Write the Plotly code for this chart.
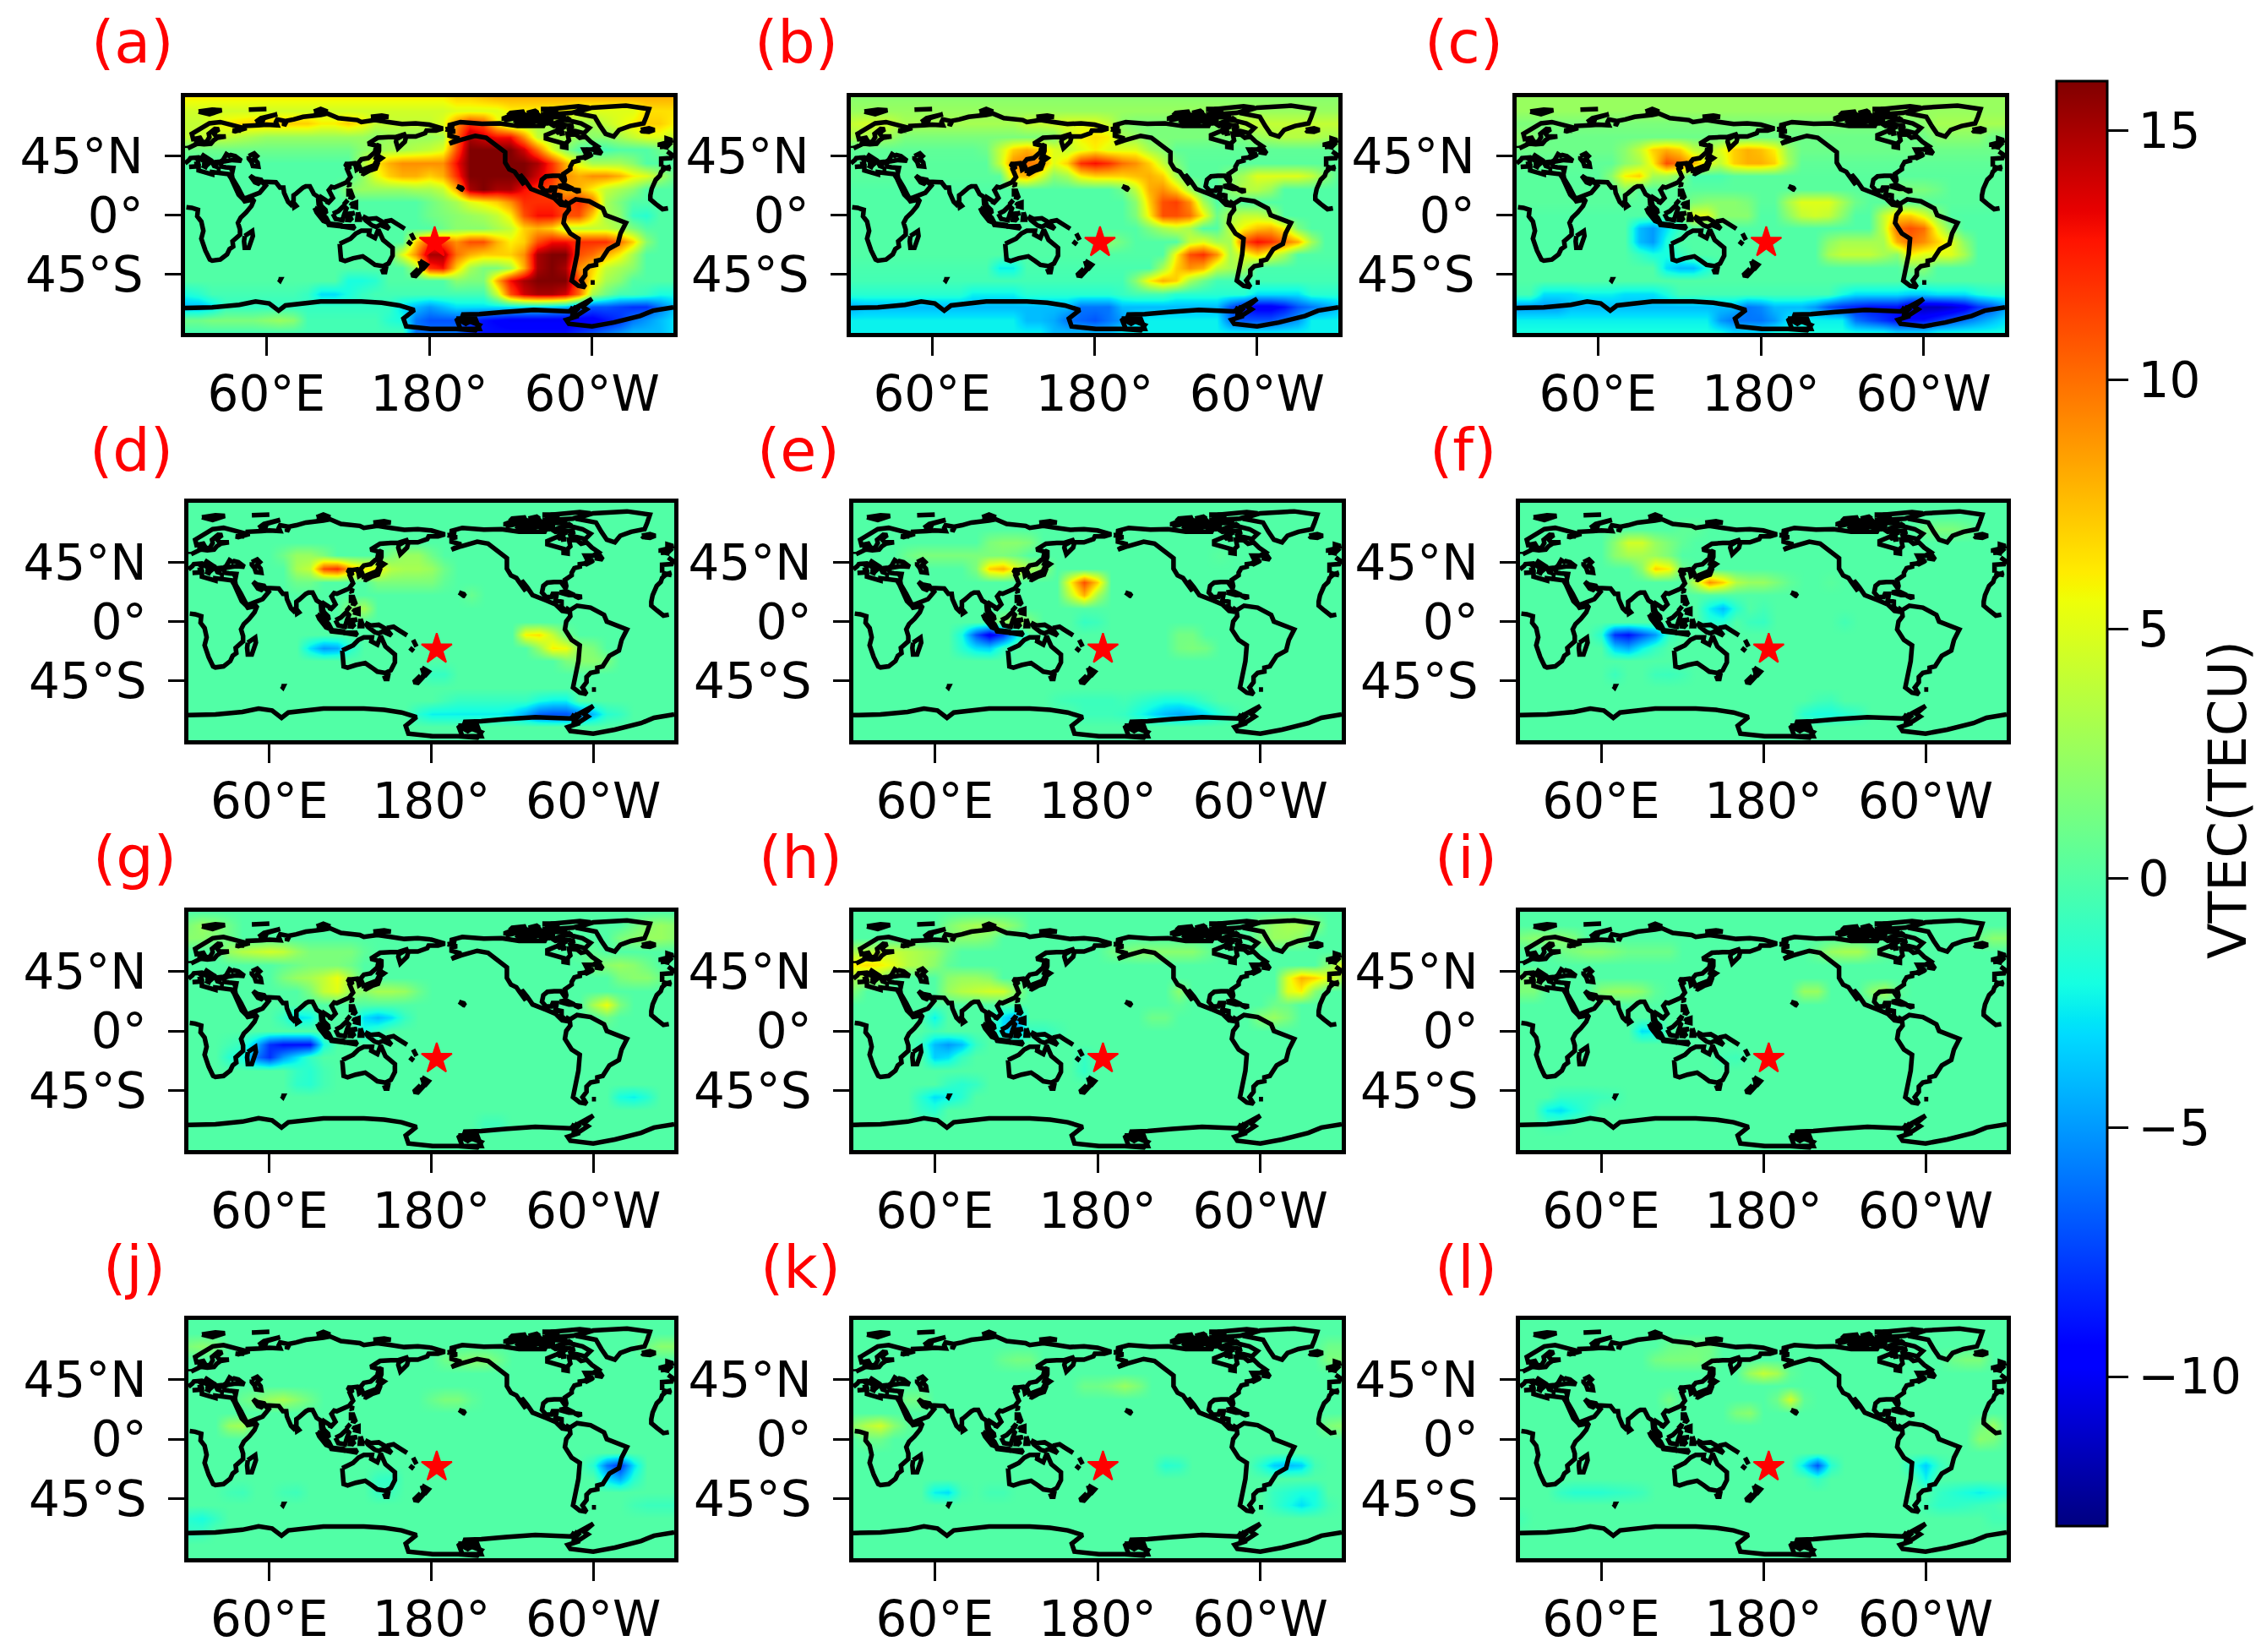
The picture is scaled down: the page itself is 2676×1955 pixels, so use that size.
import plotly.graph_objects as go

# grid the VTEC maps were read on
LONS = list(range(0, 361, 10))
LATS = list(range(90, -91, -10))

PANEL_NAMES = ["(a)", "(b)", "(c)", "(d)", "(e)", "(f)", "(g)", "(h)", "(i)", "(j)", "(k)", "(l)"]
X_TICK_VALS = [60, 180, 300]
X_TICK_TEXT = ["60°E", "180°", "60°W"]
Y_TICK_VALS = [45, 0, -45]
Y_TICK_TEXT = ["45°N", "0°", "45°S"]
CBAR_TICK_VALS = [-10, -5, 0, 5, 10, 15]
VTEC_MIN = -13
VTEC_MAX = 16
EPICENTER_LON = [184]
EPICENTER_LAT = [-21]

PANEL_A = {
    90: (6, {200: 7, 210: 7, 220: 7.5, 230: 8, 240: 8, 250: 8, 260: 8, 270: 8, 280: 8, 290: 8, 300: 8, 310: 8, 320: 8, 330: 8, 340: 8, 350: 8, 360: 8}),
    80: (4.5, {200: 5, 210: 5, 220: 5, 230: 5, 240: 6, 250: 6, 260: 6, 270: 6, 280: 6, 290: 5, 300: 5, 310: 5, 320: 5, 330: 5, 340: 6.5, 350: 6.5, 360: 6.5}),
    70: (4, {20: 5, 30: 6, 40: 6.5, 50: 7, 60: 7, 70: 7, 80: 7, 90: 7, 100: 6, 110: 6, 120: 7, 130: 6, 190: 5, 200: 9, 210: 12, 220: 11, 230: 6, 240: 3, 250: 3, 260: 3, 270: 3, 280: 3, 290: 3, 300: 3, 310: 4, 320: 5, 330: 6, 340: 7, 350: 7, 360: 6}),
    60: (2.5, {0: 4, 10: 4, 20: 4, 30: 4, 40: 3.5, 50: 3, 140: 2, 190: 3, 200: 10, 210: 15, 220: 14, 230: 13, 240: 13, 250: 9, 260: 4, 270: 3, 280: 3, 300: 2, 310: 2, 320: 3, 330: 4, 340: 5, 350: 5, 360: 4}),
    50: (1, {130: 2, 140: 2.5, 150: 3, 160: 3, 170: 3.5, 180: 4, 190: 5, 200: 11, 210: 16, 220: 16, 230: 16, 240: 16, 250: 14, 260: 10, 270: 5, 280: 2, 290: 0, 300: -0.5, 310: -0.5, 320: 0, 330: 0, 340: 0}),
    40: (0, {130: 3, 140: 6, 150: 8, 160: 9, 170: 9, 180: 9, 190: 9, 200: 13, 210: 16, 220: 16, 230: 16, 240: 16, 250: 16, 260: 15, 270: 12, 280: 8, 290: 5, 300: 3, 310: 3, 320: 3, 330: 2}),
    30: (0, {130: 2, 140: 5, 150: 7, 160: 8, 170: 8, 180: 7, 190: 8, 200: 12, 210: 16, 220: 16, 230: 16, 240: 16, 250: 16, 260: 14, 270: 12, 280: 9, 290: 8, 300: 9, 310: 9, 320: 8, 330: 6, 340: 5, 350: 3, 360: 1}),
    20: (0, {120: 2, 130: 2.5, 140: 2.5, 150: 2.5, 160: 2.5, 170: 3, 180: 3, 190: 4, 200: 8, 210: 15, 220: 16, 230: 15, 240: 15, 250: 13, 260: 12, 270: 11, 280: 8, 290: 8, 300: 6, 310: 4, 320: 3, 330: 2}),
    10: (0, {180: 1, 190: 2, 200: 3, 210: 5, 220: 6, 230: 7, 240: 9, 250: 12, 260: 12, 270: 12, 280: 11, 290: 12, 300: 10, 310: 3, 320: 1.5}),
    0: (0, {180: 1, 190: 1.5, 200: 2, 210: 2.5, 220: 3, 230: 4, 240: 6, 250: 11, 260: 13, 270: 13, 280: 11, 290: 11, 300: 7, 310: 3, 320: 2, 330: -1, 340: -1.5}),
    -10: (0, {190: 1, 200: 2, 210: 2, 220: 2, 230: 3, 240: 4, 250: 7, 260: 8, 270: 7, 280: 4, 290: 4, 300: 4, 310: 4, 320: 3, 330: 1.5}),
    -20: (0, {170: 7, 180: 11, 190: 11, 200: 9, 210: 11, 220: 11, 230: 8, 240: 6, 250: 7, 260: 11, 270: 13, 280: 13, 290: 12, 300: 12, 310: 12, 320: 10, 330: 7, 340: 2}),
    -30: (0, {160: 5, 170: 9, 180: 15, 190: 15, 200: 10, 210: 8, 220: 7, 230: 7, 240: 7, 250: 9, 260: 15, 270: 16, 280: 16, 290: 11, 300: 10, 310: 8, 320: 6, 330: 3}),
    -40: (0, {170: 3, 180: 12, 190: 13, 200: 7, 210: 3, 220: 1.5, 230: 1.5, 240: 3, 250: 8, 260: 15, 270: 16, 280: 15, 290: 9, 300: 7, 310: 4, 320: 3, 330: 2}),
    -50: (0, {120: -2, 130: -2, 140: -1.5, 200: 2, 210: 1.5, 220: 1.5, 230: 8, 240: 13, 250: 15, 260: 16, 270: 16, 280: 16, 290: 11, 300: 6, 310: 3, 320: 2}),
    -60: (-0.5, {0: -2, 10: -1.5, 90: -1, 100: -3, 110: -3, 120: -2, 130: -1, 230: 4, 240: 11, 250: 14, 260: 15, 270: 15, 280: 14, 290: 10, 300: 3, 310: 1, 340: -1, 350: -2, 360: -2}),
    -70: (-1, {0: -4, 10: -4, 20: -3, 160: -3, 170: -4, 180: -5, 190: -4, 200: -3, 210: -3, 220: -3, 230: -3, 240: -3, 250: -3, 260: -3, 270: -3.5, 280: -4, 290: -6, 300: -7, 310: -7, 320: -7.5, 330: -8, 340: -8, 350: -6, 360: -4}),
    -80: (-0.5, {0: 1, 10: 1, 20: 1.5, 30: 1.5, 40: 1.5, 50: 1.5, 60: 2, 70: 2.5, 80: 2, 150: -1.5, 160: -2, 170: -6, 180: -7, 190: -7, 200: -7, 210: -8, 220: -9, 230: -9.5, 240: -10, 250: -10, 260: -10, 270: -10, 280: -10, 290: -10, 300: -10, 310: -9, 320: -8, 330: -6, 340: -5, 350: -4, 360: -3}),
    -90: (-0.5, {170: -6, 180: -6, 190: -6, 200: -6, 210: -8, 220: -9, 230: -9, 240: -9, 250: -9, 260: -9, 270: -9, 280: -9, 290: -8, 300: -7, 310: -6, 320: -5, 330: -4, 340: -4, 350: -4, 360: -3}),
}

PANEL_B = {
    90: (2, {}),
    80: (2.5, {}),
    70: (3, {0: 4, 10: 4.5, 20: 4.5, 30: 4, 130: 4, 140: 4, 150: 4.5, 160: 5, 170: 5, 180: 5, 190: 4, 200: 2, 210: 1.5, 220: 1.5, 230: 1.5, 240: 1.5, 250: 1.5, 260: 1.5, 270: 2, 280: 3, 290: 4, 300: 4, 310: 4, 320: 4, 330: 4, 340: 4, 350: 4, 360: 4}),
    60: (1.5, {0: 3, 10: 3, 20: 3, 30: 2.5, 160: 4, 170: 6, 180: 6.5, 190: 6, 200: 3, 210: 2.5, 300: 2.5, 310: 3, 320: 3.5, 330: 3.5, 340: 3.5, 350: 3, 360: 3}),
    50: (0.5, {100: 1, 110: 4, 120: 7, 130: 8, 140: 7, 150: 5, 160: 4, 170: 5, 180: 6, 190: 5, 200: 5, 210: 5, 220: 3, 230: 2}),
    40: (0.3, {110: 4, 120: 9, 130: 10, 140: 9, 150: 5, 160: 7, 170: 12, 180: 13, 190: 12, 200: 10, 210: 9, 220: 7, 230: 4, 240: 1.5}),
    30: (0.3, {120: 7, 130: 8, 140: 5, 150: 2, 160: 3, 170: 6, 180: 7, 190: 7, 200: 7, 210: 7.5, 220: 8, 230: 7, 240: 3, 280: 2, 290: 3, 300: 5, 310: 5, 320: 5, 330: 5, 340: 4, 350: 2}),
    20: (0, {200: 1, 210: 4, 220: 8, 230: 9, 240: 7, 250: 3, 280: 2, 290: 3.5, 300: 3.5, 310: 2.5}),
    10: (0, {210: 2, 220: 7, 230: 11, 240: 11.5, 250: 9, 260: 3, 280: 1}),
    0: (0, {210: 1.5, 220: 6, 230: 11, 240: 11, 250: 10, 260: 6, 270: 1, 280: 3, 290: 4, 300: 4, 310: 3}),
    -10: (0, {220: 1.5, 230: 3, 240: 4, 250: 3, 280: 4, 290: 6, 300: 7.5, 310: 8, 320: 6, 330: 1.5}),
    -20: (0, {190: 2, 200: 1, 250: 4, 260: 5, 270: 3, 280: 3, 290: 11, 300: 13, 310: 12, 320: 10, 330: 8, 340: 3}),
    -30: (0, {240: 6, 250: 11, 260: 12, 270: 9, 280: 3, 290: 5, 300: 7, 310: 5, 320: 3}),
    -40: (-0.3, {110: -2.5, 120: -2.5, 230: 3, 240: 7, 250: 9, 260: 8, 270: 4, 280: 3, 290: 3}),
    -50: (-0.5, {210: 2, 220: 6, 230: 8, 240: 7, 250: 3, 260: 1}),
    -60: (-1.5, {90: -2.5, 100: -2.5, 110: -2.5, 120: -2.5, 200: -1, 210: -0.5, 220: -0.5, 230: -0.5, 300: -3, 310: -3, 320: -3, 330: -3}),
    -70: (-4, {0: -4.5, 170: -6, 180: -6, 190: -6, 280: -7, 290: -9, 300: -10, 310: -10, 320: -9, 330: -7, 340: -6, 350: -5}),
    -80: (-2.5, {130: -4, 140: -4, 150: -4.5, 160: -6, 170: -6.5, 180: -7, 190: -6, 200: -5, 210: -3, 280: -6, 290: -7, 300: -7, 310: -7, 320: -6, 330: -5}),
    -90: (-2.5, {150: -4, 160: -4, 170: -4, 180: -4, 190: -4}),
}

PANEL_C = {
    90: (2.5, {}),
    80: (2.5, {}),
    70: (1.5, {300: 2, 310: 3, 320: 3, 330: 3, 340: 3, 350: 3, 360: 3}),
    60: (1, {0: 2, 10: 2, 310: 2, 320: 2, 330: 2, 340: 2}),
    50: (1, {80: 2, 90: 4, 100: 7, 110: 8, 120: 7, 130: 4, 140: 3, 150: 5, 160: 7, 170: 8, 180: 7.5, 190: 6, 200: 2.5}),
    40: (0.5, {80: 2, 90: 3, 100: 6, 110: 11, 120: 10, 130: 8, 140: 5, 150: 4, 160: 7, 170: 8, 180: 8, 190: 7, 200: 3}),
    30: (0.3, {70: 2, 80: 6, 90: 7, 100: 3, 110: 3, 120: 2, 130: -0.3, 140: -0.3, 150: -0.3}),
    20: (0.3, {80: 2, 270: 1, 280: 1.5, 290: 1.5, 300: 1.5, 310: 1}),
    10: (0.3, {130: 1.5, 140: 2, 150: 2, 160: 2, 170: 1.5, 200: 3, 210: 5, 220: 5, 230: 5, 240: 3, 250: 1}),
    0: (0, {130: 5, 140: 5, 150: 2, 160: 2, 170: 2, 200: 2, 210: 4, 220: 4.5, 230: 4, 240: 2, 270: 4, 280: 7, 290: 7, 300: 5, 310: 2}),
    -10: (0, {90: -4, 100: -5, 110: -3, 120: -1, 270: 4, 280: 10, 290: 11, 300: 10, 310: 5, 320: 1.5}),
    -20: (0, {90: -4, 100: -5, 110: -2, 230: 2, 240: 3, 250: 3, 260: 3, 270: 3, 280: 8, 290: 10, 300: 9, 310: 7, 320: 5, 330: 2}),
    -30: (0, {90: -1, 100: -2, 110: -2, 120: -1, 230: 3, 240: 4, 250: 4, 260: 4, 270: 3, 280: 2, 290: 6, 300: 5, 310: 5, 320: 5, 330: 3}),
    -40: (0, {110: -3, 120: -4, 130: -4, 140: -2, 290: 1.5, 300: 2}),
    -50: (0, {}),
    -60: (-0.5, {20: -3, 30: -3, 40: -3, 50: -2.5, 60: -2.5, 70: -2.5, 80: -3, 90: -3, 100: -3, 110: -2, 240: -2, 250: -3, 260: -3, 270: -3, 280: -3, 290: -3.5, 300: -3.5, 310: -3, 320: -3, 330: -3, 340: -2, 350: -1.5, 360: -1.5}),
    -70: (-4, {0: -5, 10: -5, 20: -5, 30: -5, 170: -6, 180: -5.5, 220: -5, 230: -7, 240: -8, 250: -8.5, 260: -9, 270: -9, 280: -9, 290: -11, 300: -11.5, 310: -11.5, 320: -11, 330: -10, 340: -8, 350: -7, 360: -5}),
    -80: (-2.5, {150: -5, 160: -6, 170: -6, 180: -6, 190: -5, 200: -3, 250: -6, 260: -7, 270: -8, 280: -9, 290: -9, 300: -9, 310: -8, 320: -7, 330: -6, 340: -5, 350: -4, 360: -3}),
    -90: (-2, {160: -3, 170: -3, 180: -3, 280: -3, 290: -3, 300: -3}),
}

PANEL_D = {
    50: (0, {70: 1, 80: 2.5, 90: 2.5, 100: 1.5, 150: 1.5, 160: 2.5, 170: 2.5, 180: 1}),
    40: (0, {80: 3, 90: 4, 100: 11, 110: 12, 120: 8, 130: 6, 140: 6, 150: 3.5, 160: 3, 170: 3, 180: 2.5, 190: 1}),
    30: (0, {80: 1, 90: 1, 140: 1.5, 150: 1.5, 160: 1.5, 170: 1.5, 180: 1.5, 190: 0.5}),
    20: (0, {210: 0.8}),
    10: (0, {120: 2, 130: 3}),
    -10: (0, {250: 6, 260: 6.5, 270: 4, 280: 1}),
    -20: (0, {90: -3, 100: -5, 110: -4.5, 120: -1.5, 260: 2.5, 270: 6, 280: 5.5, 290: 2, 300: 1.5}),
    -30: (0, {280: 1.5, 290: 2, 300: 2, 310: 1.5}),
    -40: (0, {180: -1, 190: -1}),
    -60: (0, {190: -0.5, 200: -1, 210: -1, 220: -1, 230: -1, 240: -1, 250: -1, 260: -2, 270: -2.5, 280: -2.5}),
    -70: (0, {170: -1.5, 180: -2.5, 190: -2.5, 200: -2.5, 210: -2.5, 220: -2.5, 230: -2.5, 240: -3, 250: -4.5, 260: -6.5, 270: -7, 280: -7, 290: -6, 300: -4, 310: -1.5, 320: -1}),
}

PANEL_E = {
    60: (0, {100: 1.5, 110: 2, 120: 2, 130: 1.5}),
    50: (0, {40: 1, 50: 1.5, 60: 1.5, 70: 1.5, 80: 1.5, 90: 1.5, 100: 1.5, 110: 1.5, 120: 1, 270: 0.3}),
    40: (0, {90: 1.5, 100: 7, 110: 8, 120: 5, 130: 3, 140: 2}),
    30: (0, {160: 6, 170: 11, 180: 7}),
    20: (0, {160: 4, 170: 8, 180: 3}),
    0: (0, {110: 2, 120: 3, 130: 1.5, 170: -1, 180: -0.7}),
    -10: (0, {80: -2, 90: -7, 100: -10, 110: -8, 120: -3, 240: 1.2, 250: 1.2}),
    -20: (0, {80: -1.5, 90: -3, 100: -3.5, 110: -1, 240: 1.2, 250: 1.5, 260: 1.2}),
    -60: (0, {150: -0.5, 160: -0.7, 170: -0.8, 180: -0.8, 190: -0.8, 200: -0.5, 210: -1, 220: -1.5, 230: -2, 240: -2, 250: -1.5, 260: -0.7}),
    -70: (0, {170: -0.7, 180: -0.7, 190: -0.7, 200: -1, 210: -2, 220: -3, 230: -4, 240: -4.5, 250: -4, 260: -3, 270: -1.5, 280: -0.5}),
}

PANEL_F = {
    70: (0, {120: 0.5, 130: 0.5, 300: 1, 310: 1.5, 320: 1.5, 330: 1}),
    60: (0, {70: 2, 80: 4.5, 90: 4.5, 100: 2.5, 110: 1.5, 120: 0.5}),
    50: (0, {70: 2, 80: 3, 90: 3, 100: 2.5, 110: 1.5}),
    40: (0, {90: 2, 100: 7, 110: 6, 120: 1}),
    30: (0, {130: 4, 140: 9, 150: 7, 160: 3.5, 170: 2.5, 180: 2.5, 190: 1.5, 200: 0.5, 230: 0.3}),
    10: (0, {140: -2.5, 150: -4, 160: -1.5, 180: -0.5}),
    0: (0, {140: -1.5, 150: -1.5, 170: -0.8, 180: -1, 240: -0.5}),
    -10: (0, {60: -1.5, 70: -8, 80: -9, 90: -7, 100: -5, 110: -1}),
    -20: (0, {70: -3.5, 80: -4.5, 90: -2.5, 100: -1}),
    -40: (0, {70: -0.8, 100: -0.7, 110: -0.8, 120: -0.5}),
    -60: (0, {220: -0.5, 230: -0.7}),
    -70: (0, {210: -1.5, 220: -2, 230: -2, 240: -1.5, 250: -1}),
}

PANEL_G = {
    80: (0, {0: 1.5, 10: 2.5, 20: 2, 30: 1, 330: 1, 340: 2, 350: 2.5, 360: 2}),
    70: (0, {0: 2, 10: 2, 20: 1.5, 30: 1, 320: 1.5, 330: 2, 340: 2.5, 350: 2.5, 360: 2}),
    60: (0, {30: 2.5, 40: 3.5, 50: 4, 60: 4.5, 70: 4, 80: 2.5, 90: 1.5, 100: 1.5, 110: 1.5, 120: 1.5, 130: 0.5, 290: 0.5, 300: 0.5}),
    50: (0, {70: 0.5, 80: 1, 90: 1.5, 100: 1.5, 110: 1.5, 120: 1, 300: 1.5, 310: 2, 320: 2.5, 330: 2, 340: 1}),
    40: (0, {70: 1.5, 80: 2.5, 90: 3, 100: 4, 110: 5.5, 120: 3, 320: 1.5, 330: 2, 340: 2, 350: 1}),
    30: (0, {90: 1.5, 100: 4, 110: 5, 120: 2.5, 130: 2, 140: 3, 150: 3, 160: 2.5, 170: 1}),
    20: (0, {300: 3, 310: 5.5, 320: 1.5}),
    10: (0, {70: -1, 80: -3, 90: -2.5, 130: -3, 140: -4, 150: -3, 160: -1, 310: 1}),
    0: (0, {130: -2, 140: -1}),
    -10: (0, {30: -0.5, 40: -1, 50: -4, 60: -8, 70: -9, 80: -9, 90: -9, 100: -2}),
    -20: (0, {30: -1.5, 40: -2, 50: -6, 60: -8, 70: -5, 80: -3, 90: -1}),
    -30: (0, {80: -1, 90: -1.5, 100: -0.5}),
    -40: (0, {80: -1.2, 90: -1.5, 100: -0.5}),
    -50: (0, {320: -2, 330: -2.5, 340: -1.5}),
    -70: (0, {220: -0.7, 230: -0.7}),
}

PANEL_H = {
    80: (0, {70: 1.5, 80: 2.5, 90: 3, 100: 3, 110: 2.5, 120: 1.5, 300: 1.5, 310: 2.5, 320: 3, 330: 3, 340: 2}),
    70: (0, {70: 1.5, 80: 2, 90: 2, 100: 1.5, 300: 1.5, 310: 2.5, 320: 2.5, 330: 2}),
    60: (0, {0: 3, 10: 3.5, 20: 4, 30: 4, 40: 3.5, 50: 3, 60: 2.5, 70: 1, 190: 1, 200: 1.5, 210: 2, 220: 2, 230: 2, 240: 2, 250: 2, 260: 1}),
    50: (0, {0: 6, 10: 6.5, 20: 6, 30: 5, 40: 3.5, 50: 3, 60: 2, 70: 0.5, 350: 2, 360: 5}),
    40: (0, {0: 3, 10: 3, 20: 2.5, 70: 2, 80: 2.5, 90: 2.5, 100: 2, 320: 5, 330: 8, 340: 7, 350: 5, 360: 3}),
    30: (0, {0: 1.5, 70: 2.5, 80: 3.5, 90: 4, 100: 4.5, 110: 4.5, 120: 2, 240: 2, 320: 5, 330: 6, 340: 2}),
    20: (0, {240: 0.5, 310: 1, 320: 1}),
    10: (0, {60: -2.5, 110: -3, 120: -4.5, 220: 1, 230: 1, 300: 2, 310: 2.5, 320: 1.5}),
    0: (0, {60: -0.5, 110: -3, 120: -4.5, 130: -1, 140: -1, 150: -0.5}),
    -10: (0, {50: -1, 60: -4, 70: -5, 80: -4, 90: -1}),
    -20: (0, {60: -3.5, 70: -3, 80: -1, 170: -1}),
    -30: (0, {170: -1.2}),
    -40: (0, {70: -1, 80: -1.5, 90: -1}),
    -50: (0, {50: -1.5, 60: -3, 70: -2.5, 80: -1.5}),
    -60: (0, {50: -1, 60: -1.5}),
}

PANEL_I = {
    70: (0, {0: 1.5, 10: 2, 20: 2, 30: 2, 40: 1.5, 340: 1, 350: 2, 360: 2}),
    60: (0, {30: 1, 40: 1.5, 50: 2, 60: 2, 70: 1.5, 80: 1, 90: 1, 100: 1, 110: 1, 220: 1, 230: 2.5, 240: 3, 250: 3, 260: 1.5, 270: 0.5}),
    40: (0, {0: 1.5, 10: 2}),
    30: (0, {0: 1.5, 10: 1.5, 60: 2, 70: 2.5, 80: 2.5, 90: 2, 100: 0.5, 210: 2.5, 220: 2.5, 260: 2, 270: 3, 280: 0.5}),
    0: (0, {90: -3, 100: -2.5}),
    -20: (0, {150: -0.5, 160: -0.7}),
    -50: (0, {30: -1, 40: -1, 50: -1, 60: -0.7, 70: -0.5}),
    -60: (0, {20: -2.5, 30: -3, 40: -2, 50: -1}),
    -70: (0, {20: -0.5, 30: -0.5}),
}

PANEL_J = {
    70: (0, {0: 1.5, 10: 2, 20: 1.5, 340: 1, 350: 2, 360: 2}),
    60: (0, {190: 1, 200: 1.5, 210: 2, 220: 2, 230: 1}),
    30: (0, {40: 0.8, 50: 1.5, 60: 2.5, 70: 3, 80: 2, 90: 1, 180: 0.8, 190: 1.5, 200: 1.5, 210: 0.5}),
    10: (0, {30: 2.5, 40: 3}),
    -20: (0, {300: -1.5, 310: -6, 320: -8, 330: -3}),
    -30: (0, {310: -3, 320: -4.5, 330: -1.5, 140: -1, 150: -1.2}),
    -40: (0, {140: -1, 150: -0.7, 30: -0.5, 40: -0.7, 70: -0.5, 80: -0.7}),
    -50: (0, {330: -0.5, 340: -0.8, 350: -0.8, 360: -0.8}),
    -60: (0, {0: -1.5, 10: -2, 20: -1}),
    -70: (0, {0: -1, 10: -0.8}),
}

PANEL_K = {
    70: (0, {350: 1, 360: 1}),
    60: (0, {110: 0.8, 120: 1.3, 130: 1.2, 350: 1.5, 360: 1.5}),
    40: (0, {170: 1, 180: 1, 190: 1.5, 200: 2.5, 210: 1.5}),
    30: (0, {40: 1.2, 50: 1.2}),
    10: (0, {0: 2, 10: 3.5, 20: 4.5, 30: 2, 40: 0.5, 350: 1.5, 360: 2}),
    0: (0, {10: 1, 20: 1}),
    -20: (0, {230: -1.5, 240: -1.2, 300: -1.5, 310: -3.5, 320: -4, 330: -3.5, 340: -0.5}),
    -40: (0, {60: -2.5, 70: -3, 80: -0.5, 100: -0.5, 110: -0.5, 310: -1, 320: -1.5, 330: -2, 340: -2}),
    -50: (0, {310: -1, 320: -2, 330: -3, 340: -2, 350: -0.5}),
}

PANEL_L = {
    70: (0, {110: 0.8, 120: 1, 130: 1.2, 140: 1.2}),
    60: (0, {100: 1.2, 110: 1.5, 120: 1.5, 130: 1.5, 140: 1, 320: 1, 330: 1.5, 340: 1.5}),
    50: (0, {170: 2.5, 180: 4, 190: 3, 200: 0.5}),
    30: (0, {110: 1.2, 190: 1, 200: 4.5, 210: 0.5}),
    20: (0, {160: 1.5, 170: 2}),
    10: (0, {340: 1, 350: 2.5}),
    0: (0, {340: 2, 350: 1.5}),
    -20: (0, {210: -3, 220: -7, 230: -1.5, 290: -1.5, 300: -3.5, 310: -1}),
    -30: (0, {300: -2.5, 220: -1}),
    -40: (0, {30: -1, 40: -1.5, 50: -1.5, 60: -1.5, 70: -1.2, 80: -1, 90: -0.7, 310: -1, 320: -1.5, 330: -2, 340: -2.5, 350: -2, 360: -1.5}),
    -50: (0, {300: -0.5, 310: -1.2, 320: -1.2, 330: -1, 340: -0.7, 350: -0.5}),
    -60: (0, {0: -0.5, 350: -0.5, 360: -0.5}),
}

PANELS = [PANEL_A, PANEL_B, PANEL_C, PANEL_D, PANEL_E, PANEL_F,
          PANEL_G, PANEL_H, PANEL_I, PANEL_J, PANEL_K, PANEL_L]

# coastlines, lon/lat, west longitudes negative
AFRICA = [(-6, 35.8), (-2, 35.2), (3, 36.8), (10, 37.3), (10, 34), (15, 32.4), (20, 31), (20, 32.8), (25, 31.8), (32, 31.2), (34, 28), (35.5, 24), (37.5, 20), (39.5, 15.5), (43, 12), (44, 10.5), (51, 12), (49, 7), (45, 2), (41, -2), (39, -6), (40.5, -11), (40.5, -15), (35, -20), (35.5, -24), (32.8, -26), (31, -30), (26, -34), (20, -34.8), (18.3, -34), (15, -27), (12, -18), (13.5, -12), (12, -5), (9, -1), (9.5, 4), (5, 5.5), (1, 6), (-4, 5.2), (-8, 4.5), (-13, 8.5), (-17, 12), (-17, 15), (-16, 20), (-13, 27), (-10, 30), (-9, 33), (-6, 35.8)]
EURASIA = [(-9, 37), (-9, 43), (-2, 43.5), (-1, 46), (-4.5, 48.5), (2, 51), (4, 52), (8, 54), (8.5, 57), (10.5, 57.5), (10, 54.5), (14, 54), (19, 54.5), (21, 57), (24, 59), (30, 60), (23, 60), (21, 62.5), (25, 65.5), (22, 65.8), (17.5, 62), (18, 59.5), (16, 56), (13, 55.5), (11, 59), (6, 58), (5, 62), (12, 66), (18, 70), (26, 71), (33, 69.5), (41, 67), (40, 64.5), (35, 64.5), (37, 64), (44, 66), (44, 68), (54, 68.5), (60, 69), (68, 68.5), (67, 71), (68, 73), (73, 72), (73, 68), (75, 72), (80, 73), (87, 75), (100, 76.5), (105, 77.5), (113, 74), (127, 72.5), (130, 71), (140, 72.5), (150, 71), (160, 69.5), (170, 70), (180, 69), (190, 66), (185, 64.5), (178, 64.5), (177, 62.5), (170, 60), (163, 60), (162, 56), (157, 51), (155.5, 56), (156, 58), (163, 62), (155, 59.5), (150, 59.5), (142, 59), (135, 54.5), (141, 53), (140, 48), (135, 43.5), (130, 42.5), (127.5, 39.5), (129, 36), (126.5, 34.5), (126, 37), (125, 39.5), (121, 39), (118, 39), (119, 37.5), (122, 37), (119.5, 35), (121.5, 31.5), (122, 29), (119, 25), (114, 22.3), (110, 21), (108, 21.5), (106, 19), (109, 13), (107, 10.5), (105, 8.7), (105, 10.5), (102, 12.5), (100.5, 13.5), (99.5, 10), (100.5, 7), (103.5, 4), (104, 1.3), (101, 3), (98.5, 8), (98, 14), (95, 16), (94, 18), (92, 22), (89, 22), (87, 21), (82, 16.5), (80, 15), (80, 11), (78, 8), (76, 10), (73, 17), (72.5, 21), (70, 21), (67, 25), (61, 25.2), (57, 25.5), (56, 27), (51, 28), (48, 30), (50, 26.5), (51.5, 25), (54, 24), (56, 26), (59.5, 22.5), (55, 17), (45, 13), (43, 13), (39, 21), (35, 28), (34.5, 31), (35.5, 36), (30, 36.5), (27, 37), (26, 40), (29, 41), (35, 42), (41.5, 41.5), (37, 45), (33, 46), (33.5, 44.5), (30.5, 46.5), (28, 42), (26, 40.8), (23, 40.5), (23, 37), (21.5, 37.5), (19.5, 41.5), (13.5, 45.5), (12.5, 44), (18.5, 40.2), (16, 38), (15.5, 40), (10, 44), (4, 43.5), (3, 42), (0, 39.5), (-2, 37), (-5.5, 36), (-9, 37)]
CASPIAN = [(47, 45), (51, 47), (53, 45), (51, 43), (53.5, 40), (54, 37), (50, 37.5), (49, 40.5), (47, 43), (47, 45)]
NORTH_AMERICA = [(-168, 65.5), (-162, 66.5), (-166, 68.5), (-157, 71), (-141, 69.7), (-128, 70), (-115, 68), (-108, 68), (-96, 68), (-94, 72), (-88, 68), (-82, 69), (-81, 67), (-87, 64), (-94, 61), (-94, 58.5), (-88, 56.5), (-82, 55), (-82, 52), (-79, 51.5), (-79, 55), (-77, 57), (-78, 62), (-72, 61.5), (-69, 59), (-65, 60), (-61, 56), (-56, 52.5), (-60, 50), (-66, 50), (-65, 48), (-61, 46), (-66, 44), (-70, 43.5), (-70, 41.5), (-74, 40.5), (-76, 37), (-76, 35), (-81, 31.5), (-80, 27), (-80.5, 25), (-82, 27), (-84, 30), (-89, 30), (-94, 29.5), (-97, 27), (-98, 22), (-95, 18.5), (-91, 18.5), (-90, 21), (-87, 21), (-88, 16), (-83.5, 15), (-83.5, 11), (-81, 9), (-77.5, 8.5), (-79, 9.5), (-80, 7.5), (-83, 8), (-86, 11), (-88, 13), (-95, 16), (-105, 20), (-109, 26), (-113, 31), (-112, 27), (-110, 23), (-115, 30), (-117, 33), (-121, 35), (-124, 40), (-124, 48), (-128, 51), (-133, 55), (-138, 59), (-146, 60.5), (-152, 59), (-158, 57), (-165, 54.5), (-158, 58.5), (-165, 60.5), (-165, 63), (-161, 64), (-168, 65.5)]
SOUTH_AMERICA = [(-77.5, 8.5), (-72, 12), (-62, 10.5), (-52, 5), (-50, 0), (-44, -2.5), (-35, -6), (-39, -14), (-41, -22), (-48, -26), (-53, -34), (-57, -35), (-57, -38), (-62, -39), (-65, -42), (-65, -46), (-68, -50), (-65, -55), (-70, -54), (-75, -50), (-73, -40), (-71, -30), (-70, -18), (-76, -14), (-81, -6), (-80, 0), (-77, 4), (-77.5, 8.5)]
GREENLAND = [(-73, 78), (-60, 82), (-35, 83.5), (-18, 81), (-20, 75), (-22, 70), (-32, 68), (-40, 65), (-44, 60), (-50, 62), (-54, 68), (-58, 75), (-73, 78)]
ANTARCTICA = [(0, -71), (20, -70.5), (40, -68.5), (52, -66), (62, -67.5), (69, -73), (74, -69), (82, -68), (100, -66), (120, -66), (130, -66), (145, -67), (158, -69), (169, -72.5), (165, -76), (161, -79), (163, -85), (181, -87), (200, -87), (214, -88), (217, -84), (204, -79), (205, -76), (217, -75.6), (235, -74), (257, -72.5), (283, -73.5), (293, -68), (300, -64), (293, -70), (296, -72), (290, -76), (284, -76), (290, -77), (281, -80), (283, -83), (300, -85), (316, -82), (335.5, -77), (345, -73), (360, -70.5)]
ROSS_BLOB = [(200, -79), (214, -79), (217, -87), (203, -87), (200, -79), (207, -83), (214, -79)]
ALEXANDER = [(286, -70), (289, -72), (287, -74), (285, -72), (286, -70)]
BRITAIN = [(-5.5, 50), (1.5, 51.2), (1.5, 52.8), (-1.5, 55), (-2, 57.5), (-5, 58.5), (-5, 55), (-3, 54), (-5, 52), (-5.5, 50)]
IRELAND = [(-10, 52), (-6, 52.3), (-6, 55), (-10, 54), (-10, 52)]
ICELAND = [(-24, 65), (-18, 66.3), (-14, 65), (-18, 63.5), (-23, 64), (-24, 65)]
SICILY = [(12.5, 38), (15.5, 38), (15, 36.8), (12.5, 38)]
SARDINIA = [(8.3, 41), (9.7, 43), (9.7, 39.2), (8.5, 39), (8.3, 41)]
CRETE = [(23.5, 35.4), (26.3, 35.2), (24.5, 34.9), (23.5, 35.4)]
CYPRUS = [(32.5, 35), (34.5, 35.6), (33.5, 34.7), (32.5, 35)]
MADAGASCAR = [(44, -16), (49.5, -12.2), (50, -16), (47, -25), (44, -25), (43.5, -20), (44, -16)]
SRI_LANKA = [(80, 9.5), (82, 7), (80.5, 6), (80, 9.5)]
HONSHU = [(130, 32), (131.5, 31.5), (136, 34), (140.5, 35.5), (142, 39.5), (141, 41), (139.5, 38), (136.5, 37), (132, 35), (130, 33.5), (130, 32)]
HOKKAIDO = [(140, 42), (141.5, 45.5), (145, 43.5), (143, 42), (140, 42)]
SAKHALIN = [(142, 46), (143, 49), (143, 54), (142, 53), (142, 46)]
TAIWAN = [(120.2, 23), (121.5, 25), (121, 22), (120.2, 23)]
LUZON = [(120.5, 14), (120.5, 18.5), (122, 18.5), (124, 13), (120.5, 14)]
MINDANAO = [(122, 7), (126, 6), (126, 9.5), (123, 8.5), (122, 7)]
PALAWAN = [(117, 8), (120, 11.5), (119, 9), (117, 8)]
BORNEO = [(109, 1), (113, 3), (117, 7), (119, 5), (117.5, 1), (116, -4), (111, -3), (109, 1)]
SUMATRA = [(95.5, 5.5), (98, 4), (104, -2), (106, -6), (102, -4.5), (97, 2), (95.5, 5.5)]
JAVA = [(105.5, -6.5), (114.5, -7.5), (114.5, -8.5), (106, -7.5), (105.5, -6.5)]
SUNDA = [(115, -8.5), (120, -8.3), (125, -8.5), (124, -10), (119, -9.5), (115, -8.5)]
SULAWESI = [(119.5, -5.5), (120, 1), (125, 1.5), (121, 0), (123, -4), (121, -3), (120.5, -5.5)]
MALUKU = [(127.5, 2), (128.5, -1), (127.5, -3.5), (130.5, -3.5), (127, -3), (127.5, 2)]
NEW_GUINEA = [(131, -1), (135, -3), (141, -2.5), (147, -6), (150.5, -10.5), (144, -7.5), (141, -9), (138, -8), (133, -4), (131, -1)]
SOLOMON_ARC = [(147, -5), (152, -4), (155, -6), (158, -8), (162, -10.5)]
VANUATU = [(166.5, -14), (167.5, -16), (169, -19), (167, -16), (166.5, -14)]
NEW_CALEDONIA = [(164, -20), (167, -22.5), (165.5, -22), (164, -20)]
AUSTRALIA = [(114, -22), (122, -18), (126, -14), (130, -12), (136, -12), (135.5, -15), (140, -17.5), (142.5, -11), (146, -19), (153, -25), (153, -31), (150, -37), (146, -39), (140, -38), (136, -35), (131, -31.5), (124, -33), (118, -35), (115, -34), (114, -26), (114, -22)]
TASMANIA = [(145, -41), (148, -41), (147.5, -43.5), (146, -43.5), (145, -41)]
NZ_NORTH = [(173, -35), (178, -38), (175, -41.5), (174, -39), (173, -35)]
NZ_SOUTH = [(172, -41), (174, -42), (170, -46.5), (167, -46), (172, -41)]
HAWAII = [(-159.5, 22), (-156, 20.8), (-155, 19.3), (-156, 19.5), (-158, 21), (-159.5, 22)]
KERGUELEN = [(69, -49), (70.5, -49), (70, -50), (69, -49)]
FALKLANDS = [(-61, -51.5), (-58, -51.5), (-59, -52.3), (-61, -51.5)]
CUBA = [(-85, 22), (-80, 23), (-74, 20), (-78, 20), (-85, 22)]
HISPANIOLA = [(-74, 19.5), (-68.5, 18.7), (-71, 18), (-74, 19.5)]
NEWFOUNDLAND = [(-59, 48), (-56, 51.5), (-53, 47), (-59, 48)]
ANTICOSTI = [(-64.5, 49.8), (-62, 49.3), (-64, 49), (-64.5, 49.8)]
NOVA_SCOTIA = [(-66, 44), (-64, 46), (-60, 46.5), (-61, 45.5), (-65, 43.5), (-66, 44)]
SVALBARD = [(10, 79), (20, 80.5), (27, 80), (18, 77), (10, 79)]
FRANZ_JOSEF = [(47, 80.5), (60, 81), (52, 80), (47, 80.5)]
NOVAYA_ZEMLYA = [(52, 71), (56, 74), (68, 77), (58, 74), (57, 71), (52, 71)]
SEVERNAYA = [(95, 79), (105, 79), (100, 81), (95, 79)]
NEW_SIBERIA = [(137, 75), (150, 75), (145, 76), (137, 75)]
BAFFIN = [(-80, 73), (-68, 70), (-62, 66.5), (-66, 62.5), (-72, 64), (-78, 65), (-74, 68), (-88, 70), (-80, 73)]
VICTORIA = [(-117, 70), (-105, 69), (-102, 72), (-115, 73), (-117, 70)]
BANKS = [(-125, 72), (-117, 74), (-120, 76), (-125, 74), (-125, 72)]
ELLESMERE = [(-90, 77), (-75, 78), (-62, 82), (-70, 83), (-90, 81), (-90, 77)]
MELVILLE = [(-117, 75), (-105, 75), (-105, 76.5), (-117, 76.5), (-117, 75)]
DEVON = [(-96, 75), (-80, 74.5), (-82, 76), (-96, 77), (-96, 75)]
SOMERSET = [(-97, 73), (-90, 72), (-90, 74), (-97, 74), (-97, 73)]
AXEL_HEIBERG = [(-96, 79), (-86, 78), (-88, 81), (-96, 81), (-96, 79)]
PRINCE_PATRICK = [(-122, 76), (-112, 77), (-110, 79), (-120, 78), (-122, 76)]
BOOTHIA = [(-100, 70), (-92, 70), (-95, 72), (-100, 72), (-100, 70)]
SOUTHAMPTON = [(-87, 65), (-81, 63.5), (-85, 63), (-87, 65)]
BATHURST = [(-104, 75), (-98, 75), (-100, 77), (-104, 75)]
ELLEF_RINGNES = [(-108, 78), (-100, 78), (-102, 79.5), (-108, 78)]
PRINCE_OF_WALES = [(-102, 72), (-96, 71.5), (-97, 74), (-102, 74), (-102, 72)]
KING_WILLIAM = [(-100, 69), (-95, 69), (-97, 70), (-100, 69)]
STEFANSSON = [(-115, 72), (-108, 71), (-110, 73.5), (-115, 72)]
BYLOT = [(-82, 72.5), (-76, 72.5), (-78, 73.8), (-82, 72.5)]
CORNWALLIS = [(-94, 75), (-88, 75), (-92, 77), (-94, 75)]
COATS = [(-84, 62), (-80, 62.5), (-82, 63), (-84, 62)]

COASTS = [AFRICA, EURASIA, CASPIAN, NORTH_AMERICA, SOUTH_AMERICA, GREENLAND, ANTARCTICA, ROSS_BLOB, ALEXANDER, BRITAIN, IRELAND,
          ICELAND, SICILY, SARDINIA, CRETE, CYPRUS, MADAGASCAR, SRI_LANKA, HONSHU, HOKKAIDO, SAKHALIN, TAIWAN, LUZON, MINDANAO,
          PALAWAN, BORNEO, SUMATRA, JAVA, SUNDA, SULAWESI, MALUKU, NEW_GUINEA, SOLOMON_ARC, VANUATU, NEW_CALEDONIA,
          AUSTRALIA, TASMANIA, NZ_NORTH, NZ_SOUTH, HAWAII, KERGUELEN, FALKLANDS, CUBA, HISPANIOLA, NEWFOUNDLAND, ANTICOSTI,
          NOVA_SCOTIA, SVALBARD, FRANZ_JOSEF, NOVAYA_ZEMLYA, SEVERNAYA, NEW_SIBERIA, BAFFIN, VICTORIA, BANKS, ELLESMERE, MELVILLE,
          DEVON, SOMERSET, AXEL_HEIBERG, PRINCE_PATRICK, BOOTHIA, SOUTHAMPTON, BATHURST, ELLEF_RINGNES, PRINCE_OF_WALES,
          KING_WILLIAM, STEFANSSON, BYLOT, CORNWALLIS, COATS]

# matplotlib's jet
JET = [[0, "rgb(0,0,128)"], [0.11, "rgb(0,0,255)"], [0.125, "rgb(0,0,255)"], [0.34, "rgb(0,219,255)"],
       [0.35, "rgb(0,230,247)"], [0.375, "rgb(21,255,226)"], [0.64, "rgb(238,255,8)"], [0.65, "rgb(247,246,0)"],
       [0.66, "rgb(255,236,0)"], [0.89, "rgb(255,19,0)"], [0.91, "rgb(232,0,0)"], [1, "rgb(128,0,0)"]]

FIG_W = 2676
FIG_H = 1955
FONT = "DejaVu Sans"

# frame position of each panel, pixels
ROW_Y = [(115, 394), (595, 876), (1079, 1361), (1562, 1844)]
COL_X_TOP = [(219, 797), (1007, 1584), (1795, 2373)]
COL_X = [(223, 798), (1010, 1588), (1799, 2375)]
LABEL_XY = [(157, 50), (942, 50), (1732, 50), (155, 533), (945, 533), (1731, 533),
            (159, 1015), (947, 1015), (1735, 1015), (159, 1500), (947, 1500), (1735, 1500)]


def grid(rows):
    z = []
    for lat in LATS:
        base, cells = rows.get(lat, (0, {}))
        z.append([cells.get(lon, base) for lon in LONS])
    return z


coast_x = []
coast_y = []
for coast in COASTS:
    prev = None
    for lon, lat in coast:
        # keep 360 at the right edge for the Antarctic line
        lon360 = lon if lon == 360 else lon % 360
        if prev is not None and abs(lon360 - prev) > 180:
            coast_x.append(None)
            coast_y.append(None)
        coast_x.append(lon360)
        coast_y.append(lat)
        prev = lon360
    coast_x.append(None)
    coast_y.append(None)

fig = go.Figure()
annotations = []

for i, rows in enumerate(PANELS):
    n = i + 1
    r = i // 3
    c = i % 3
    x0, x1 = COL_X_TOP[c] if r == 0 else COL_X[c]
    y0, y1 = ROW_Y[r]
    xname = "x" if n == 1 else "x%d" % n
    yname = "y" if n == 1 else "y%d" % n

    fig.add_trace(go.Heatmap(x=LONS, y=LATS, z=grid(rows), coloraxis="coloraxis", zsmooth="best",
                             xaxis=xname, yaxis=yname, showlegend=False))
    fig.add_trace(go.Scatter(x=coast_x, y=coast_y, mode="lines", xaxis=xname, yaxis=yname, showlegend=False,
                             line=dict(color="black", width=5.5), connectgaps=False))
    fig.add_trace(go.Scatter(x=EPICENTER_LON, y=EPICENTER_LAT, mode="markers", xaxis=xname, yaxis=yname, showlegend=False,
                             marker=dict(symbol="star", size=27, color="#ff0000", line=dict(width=2, color="#ff0000"))))

    fig.layout["xaxis" if n == 1 else "xaxis%d" % n] = dict(
        domain=[x0 / FIG_W, x1 / FIG_W], range=[0, 360], anchor=yname, tickvals=X_TICK_VALS, ticktext=X_TICK_TEXT,
        ticks="outside", ticklen=22, tickwidth=3, tickcolor="black", showline=True, linecolor="black", linewidth=4.5,
        mirror=True, showgrid=False, zeroline=False, ticklabelstandoff=-4, tickangle=0,
        tickfont=dict(family=FONT, size=58, color="black"))
    fig.layout["yaxis" if n == 1 else "yaxis%d" % n] = dict(
        domain=[1 - y1 / FIG_H, 1 - y0 / FIG_H], range=[-90, 90], anchor=xname, tickvals=Y_TICK_VALS, ticktext=Y_TICK_TEXT,
        ticks="outside", ticklen=19, tickwidth=3, tickcolor="black", showline=True, linecolor="black", linewidth=4.5,
        mirror=True, showgrid=False, zeroline=False, ticklabelstandoff=14,
        tickfont=dict(family=FONT, size=58, color="black"))

    lx, ly = LABEL_XY[i]
    annotations.append(dict(text=PANEL_NAMES[i], x=lx / FIG_W, y=1 - ly / FIG_H, xref="paper", yref="paper",
                            xanchor="center", yanchor="middle", showarrow=False,
                            font=dict(family=FONT, size=70, color="red")))

annotations.append(dict(text="VTEC(TECU)", x=2637 / FIG_W, y=1 - 947 / FIG_H, xref="paper", yref="paper",
                        xanchor="center", yanchor="middle", textangle=-90, showarrow=False,
                        font=dict(family=FONT, size=62, color="black")))

fig.update_layout(
    width=FIG_W, height=FIG_H, margin=dict(l=0, r=0, t=0, b=0), paper_bgcolor="white", plot_bgcolor="white",
    showlegend=False, annotations=annotations,
    coloraxis=dict(
        cmin=VTEC_MIN, cmax=VTEC_MAX, colorscale=JET,
        colorbar=dict(x=2434 / FIG_W, xanchor="left", xref="paper", y=1 - 96 / FIG_H, yanchor="top", yref="paper",
                      len=(1806 - 96) / FIG_H, lenmode="fraction", thickness=60, thicknessmode="pixels",
                      xpad=0, ypad=0, outlinecolor="black", outlinewidth=3, ticks="outside", ticklen=24, tickwidth=3,
                      tickcolor="black", tickvals=CBAR_TICK_VALS, tickfont=dict(family=FONT, size=58, color="black")),
    ),
)

# page margin off, so the figure sits at the window's corner
fig.write_html("out.html", config={"displayModeBar": False}, post_script="document.body.style.margin='0';")
